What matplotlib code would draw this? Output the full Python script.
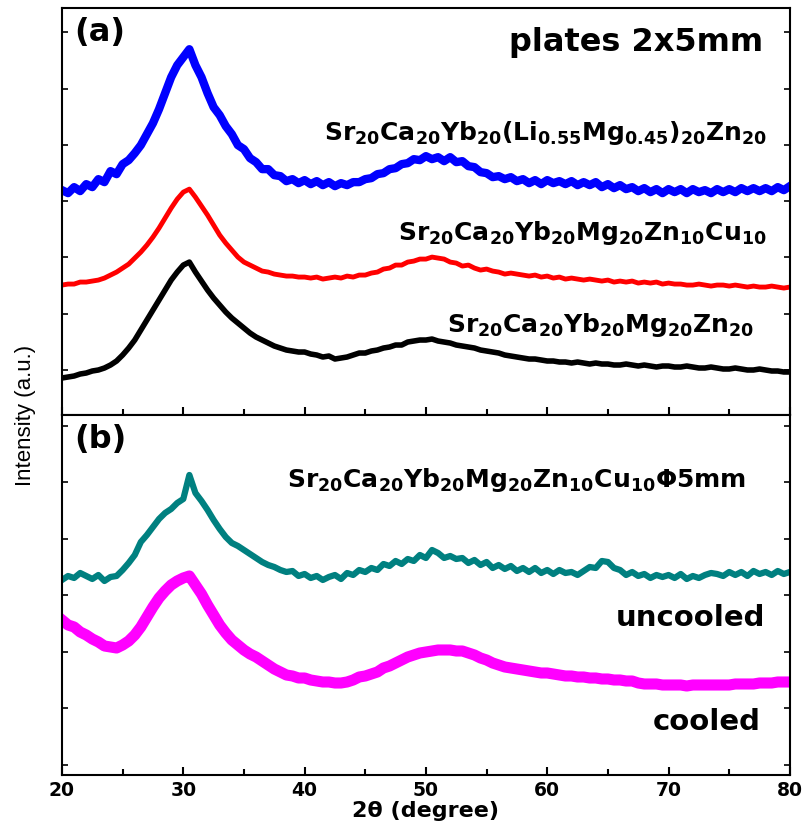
import numpy as np
import matplotlib
matplotlib.use('Agg')
import matplotlib.pyplot as plt
from matplotlib.ticker import MultipleLocator

plt.rcParams['font.family'] = ['DejaVu Sans']
plt.rcParams['mathtext.fontset'] = 'dejavusans'

# intensities (a.u.) read at 0.5 deg steps, 20..80 deg
blue = [225, 222, 228, 224, 231, 228, 236, 233, 244, 241,
        251, 255, 262, 270, 281, 292, 306, 322, 338, 350,
        358, 366, 350, 338, 322, 308, 300, 289, 281, 270,
        266, 257, 253, 246, 246, 240, 239, 234, 236, 232,
        235, 231, 234, 230, 233, 229, 232, 230, 233, 233,
        236, 237, 241, 242, 246, 247, 251, 252, 256, 255,
        259, 256, 258, 254, 258, 253, 254, 249, 248, 243,
        242, 238, 239, 236, 238, 234, 236, 232, 235, 231,
        235, 232, 234, 231, 234, 230, 233, 230, 233, 228,
        231, 227, 230, 226, 228, 224, 227, 223, 226, 222,
        226, 223, 226, 222, 226, 223, 225, 222, 226, 223,
        226, 223, 227, 224, 227, 224, 227, 224, 228, 225,
        229]
red = [130, 131, 131, 133, 133, 134, 135, 137, 140, 143,
       147, 151, 157, 163, 170, 178, 187, 197, 207, 216,
       223, 226, 218, 209, 200, 190, 180, 172, 165, 158,
       153, 150, 147, 144, 143, 141, 140, 139, 139, 138,
       138, 137, 138, 136, 137, 138, 137, 139, 138, 140,
       140, 142, 143, 146, 147, 150, 150, 153, 154, 156,
       156, 158, 157, 156, 153, 152, 149, 150, 147, 145,
       146, 144, 143, 141, 142, 141, 140, 139, 140, 138,
       139, 137, 138, 136, 137, 136, 135, 136, 135, 134,
       135, 133, 134, 133, 134, 132, 133, 132, 133, 131,
       132, 131, 131, 130, 130, 131, 130, 129, 130, 130,
       129, 130, 129, 128, 129, 128, 128, 129, 128, 127,
       128]
black = [37, 38, 39, 41, 42, 44, 45, 47, 50, 54,
         60, 67, 75, 85, 95, 105, 115, 125, 135, 143,
         150, 153, 143, 134, 125, 117, 110, 103, 97, 92,
         87, 82, 78, 75, 72, 69, 67, 65, 64, 63,
         63, 61, 60, 58, 59, 56, 57, 58, 60, 62,
         62, 64, 65, 67, 68, 70, 70, 73, 74, 75,
         75, 76, 74, 73, 72, 70, 69, 68, 67, 65,
         64, 63, 62, 60, 59, 58, 57, 56, 56, 55,
         54, 54, 53, 53, 52, 53, 52, 51, 52, 51,
         51, 50, 50, 51, 50, 49, 50, 49, 48, 49,
         49, 48, 48, 49, 48, 47, 47, 48, 47, 46,
         46, 47, 46, 45, 45, 46, 45, 44, 44, 43,
         43]
teal = [195, 199, 197, 202, 199, 196, 200, 194, 198, 199,
        205, 212, 220, 233, 240, 248, 256, 262, 266, 272,
        276, 300, 282, 274, 265, 255, 246, 238, 232, 229,
        225, 221, 217, 213, 210, 208, 205, 203, 204, 199,
        201, 197, 199, 195, 198, 200, 196, 202, 200, 205,
        203, 207, 205, 211, 209, 214, 211, 216, 214, 220,
        217, 225, 222, 217, 219, 216, 217, 212, 215, 210,
        213, 207, 210, 206, 209, 204, 207, 203, 207, 202,
        205, 201, 205, 202, 203, 200, 204, 208, 207, 214,
        213, 207, 205, 200, 203, 199, 201, 197, 200, 198,
        200, 197, 201, 196, 199, 197, 200, 202, 201, 199,
        203, 200, 203, 199, 204, 201, 203, 200, 204, 201,
        203]
magenta = [155, 150, 148, 143, 140, 136, 133, 129, 128, 127,
           130, 134, 140, 148, 158, 168, 177, 184, 190, 194,
           197, 199, 190, 181, 170, 160, 150, 142, 135, 130,
           125, 121, 118, 114, 110, 106, 103, 100, 99, 97,
           97, 95, 94, 93, 93, 92, 92, 93, 95, 98,
           99, 101, 103, 107, 109, 112, 115, 118, 120, 122,
           123, 124, 125, 125, 125, 124, 124, 122, 120, 117,
           115, 112, 110, 108, 107, 106, 105, 104, 103, 102,
           102, 101, 100, 99, 99, 98, 98, 97, 97, 96,
           96, 95, 95, 94, 94, 92, 91, 91, 91, 90,
           90, 90, 90, 89, 90, 90, 90, 90, 90, 90,
           90, 91, 91, 91, 91, 92, 92, 92, 93, 93,
           93]

two_theta = np.linspace(20, 80, len(blue))

lab_a1 = r'$\mathbf{Sr_{20}Ca_{20}Yb_{20}(Li_{0.55}Mg_{0.45})_{20}Zn_{20}}$'
lab_a2 = r'$\mathbf{Sr_{20}Ca_{20}Yb_{20}Mg_{20}Zn_{10}Cu_{10}}$'
lab_a3 = r'$\mathbf{Sr_{20}Ca_{20}Yb_{20}Mg_{20}Zn_{20}}$'
lab_b1 = r'$\mathbf{Sr_{20}Ca_{20}Yb_{20}Mg_{20}Zn_{10}Cu_{10}}$Φ5mm'

fig = plt.figure(figsize=(8.07, 8.25), dpi=100)
ax1 = fig.add_axes([0.0768, 0.497, 0.902, 0.493])
ax2 = fig.add_axes([0.0768, 0.0606, 0.902, 0.4364])

ax1.plot(two_theta, blue, color='#0000ff', lw=6)
ax1.plot(two_theta, red, color='#ff0000', lw=3.5)
ax1.plot(two_theta, black, color='black', lw=4)
ax2.plot(two_theta, teal, color='#008080', lw=4.5)
ax2.plot(two_theta, magenta, color='#ff00ff', lw=8)

ax1.set_ylim(0, 407)
ax2.set_ylim(0, 360)
ax1.set_yticks(np.arange(45, 407, 56.3))
ax2.set_yticks(np.arange(10, 360, 56.5))

for ax in (ax1, ax2):
    ax.set_xlim(20, 80)
    ax.xaxis.set_major_locator(MultipleLocator(10))
    ax.xaxis.set_minor_locator(MultipleLocator(5))
    ax.tick_params(axis='x', which='both', direction='in', top=False, width=1.5)
    ax.tick_params(axis='x', which='major', length=6, pad=4)
    ax.tick_params(axis='x', which='minor', length=4)
    ax.tick_params(axis='y', direction='in', left=True, right=True,
                   labelleft=False, length=4, width=1.2)
    for s in ax.spines.values():
        s.set_linewidth(1.5)

ax1.tick_params(axis='x', labelbottom=False)
for t in ax2.get_xticklabels():
    t.set_fontweight('bold')
    t.set_fontsize(13.5)
ax2.set_xlabel('2θ (degree)', fontsize=16, fontweight='bold', labelpad=1)

ax1.text(21.0, 383, '(a)', fontsize=23, fontweight='bold', va='center', ha='left')
ax1.text(77.8, 373, 'plates 2x5mm', fontsize=23, fontweight='bold', va='center', ha='right')
ax1.text(78.1, 275, lab_a1, fontsize=18, va='baseline', ha='right')
ax1.text(78.1, 175, lab_a2, fontsize=18, va='baseline', ha='right')
ax1.text(77.1, 83, lab_a3, fontsize=18, va='baseline', ha='right')

ax2.text(21.0, 335, '(b)', fontsize=23, fontweight='bold', va='center', ha='left')
ax2.text(76.4, 288, lab_b1, fontsize=18, fontweight='bold', va='baseline', ha='right')
ax2.text(78.0, 157, 'uncooled', fontsize=21, fontweight='bold', va='center', ha='right')
ax2.text(77.6, 53, 'cooled', fontsize=21, fontweight='bold', va='center', ha='right')

fig.text(0.032, 0.497, 'Intensity (a.u.)', rotation=90, fontsize=16,
         family='Liberation Sans', va='center', ha='center')

fig.savefig('out.png', dpi=100)
